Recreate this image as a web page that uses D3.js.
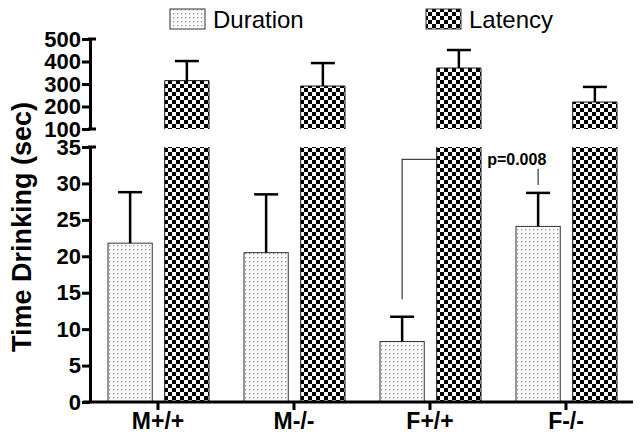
<!DOCTYPE html>
<html>
<head>
<meta charset="utf-8">
<script src="https://cdn.jsdelivr.net/npm/d3@7"></script>
<style>
  body { margin: 0; background: #fff; }
  svg { font-family: "Liberation Sans", Arial, sans-serif; }
</style>
</head>
<body>
<svg id="chart" width="641" height="438"></svg>
<script>
const groups = ['M+/+', 'M-/-', 'F+/+', 'F-/-'];
const series = ['Duration', 'Latency'];
const durationMean = [21.8, 20.5, 8.3, 24.1];
const durationSem = [7.0, 8.0, 3.4, 4.6];
const latencyMean = [315, 291, 371, 220];
const latencySem = [87, 102, 80, 67];
const lowTicks = [0, 5, 10, 15, 20, 25, 30, 35];
const highTicks = [100, 200, 300, 400, 500];
const pLabel = 'p=0.008';

const svg = d3.select('#chart');

// patterns
const defs = svg.append('defs');
const checker = defs.append('pattern')
    .attr('id', 'checker').attr('patternUnits', 'userSpaceOnUse')
    .attr('width', 8).attr('height', 8);
checker.append('rect').attr('width', 8).attr('height', 8).attr('fill', '#fff');
checker.append('rect').attr('width', 4).attr('height', 4).attr('fill', '#000');
checker.append('rect').attr('x', 4).attr('y', 4).attr('width', 4).attr('height', 4).attr('fill', '#000');

const dots = defs.append('pattern')
    .attr('id', 'dots').attr('patternUnits', 'userSpaceOnUse')
    .attr('width', 4).attr('height', 4);
dots.append('rect').attr('width', 4).attr('height', 4).attr('fill', '#fbfbfb');
dots.append('rect').attr('x', 1).attr('y', 1).attr('width', 1.3).attr('height', 1.3).attr('fill', '#999');

const fills = { Duration: 'url(#dots)', Latency: 'url(#checker)' };

// scales
const x = d3.scaleBand().domain(groups).range([90, 634]);
const sub = d3.scaleBand().domain(series).range([18, 119]).paddingInner(0.22);
const yLow = d3.scaleLinear().domain([0, 35]).range([402, 147]);
const yHigh = d3.scaleLinear().domain([100, 500]).range([129, 39]);

const rows = groups.map((g, i) => ({
    g, dur: durationMean[i], durErr: durationSem[i], lat: latencyMean[i], latErr: latencySem[i]
}));

// significance bracket (behind bars)
const fp = rows[2], fm = rows[3];
const leftX = x(fp.g) + sub('Duration') + sub.bandwidth() / 2;
const rightX = x(fm.g) + sub('Duration') + sub.bandwidth() / 2;
svg.append('path')
    .attr('d', `M${leftX},${yLow(14.1)}V${yLow(33.3)}H${x(fp.g) + sub('Latency')}`)
    .attr('fill', 'none').attr('stroke', '#444').attr('stroke-width', 1.3);
svg.append('line')
    .attr('x1', rightX).attr('x2', rightX)
    .attr('y1', yLow(32)).attr('y2', yLow(29.8))
    .attr('stroke', '#444').attr('stroke-width', 1.3);
svg.append('text')
    .attr('x', rightX - 51).attr('y', 165)
    .attr('font-size', 16).attr('font-weight', 'bold')
    .text(pLabel);

const bw = sub.bandwidth();

// duration bars
rows.forEach(d => {
    const bx = x(d.g) + sub('Duration');
    svg.append('rect')
        .attr('x', bx).attr('y', yLow(d.dur))
        .attr('width', bw).attr('height', yLow(0) - yLow(d.dur))
        .attr('fill', fills.Duration).attr('stroke', '#333').attr('stroke-width', 1);
    const cx = bx + bw / 2;
    svg.append('line').attr('x1', cx).attr('x2', cx)
        .attr('y1', yLow(d.dur)).attr('y2', yLow(d.dur + d.durErr))
        .attr('stroke', '#000').attr('stroke-width', 2.5);
    svg.append('line').attr('x1', cx - 12).attr('x2', cx + 12)
        .attr('y1', yLow(d.dur + d.durErr)).attr('y2', yLow(d.dur + d.durErr))
        .attr('stroke', '#000').attr('stroke-width', 2.5);
});

// latency bars: lower segment clipped at 35, upper segment from 100
rows.forEach(d => {
    const bx = x(d.g) + sub('Latency');
    const top = yLow(35), bot = yLow(0);
    svg.append('rect').attr('x', bx).attr('y', top)
        .attr('width', bw).attr('height', bot - top).attr('fill', fills.Latency);
    svg.append('path')
        .attr('d', `M${bx},${top}V${bot}H${bx + bw}V${top}`)
        .attr('fill', 'none').attr('stroke', '#111').attr('stroke-width', 1);

    const ut = yHigh(d.lat), ub = yHigh(100);
    svg.append('rect').attr('x', bx).attr('y', ut)
        .attr('width', bw).attr('height', ub - ut).attr('fill', fills.Latency);
    svg.append('path')
        .attr('d', `M${bx},${ub}V${ut}H${bx + bw}V${ub}`)
        .attr('fill', 'none').attr('stroke', '#111').attr('stroke-width', 1);
    const cx = bx + bw / 2;
    svg.append('line').attr('x1', cx).attr('x2', cx)
        .attr('y1', ut).attr('y2', yHigh(d.lat + d.latErr))
        .attr('stroke', '#000').attr('stroke-width', 2.5);
    svg.append('line').attr('x1', cx - 12).attr('x2', cx + 12)
        .attr('y1', yHigh(d.lat + d.latErr)).attr('y2', yHigh(d.lat + d.latErr))
        .attr('stroke', '#000').attr('stroke-width', 2.5);
});

// axes
function styleAxis(g, size) {
    g.selectAll('path.domain').attr('stroke-width', 3);
    g.selectAll('.tick line').attr('stroke-width', 3);
    g.selectAll('.tick text').attr('font-size', size).attr('font-weight', 'bold')
        .attr('font-family', '"Liberation Sans", Arial, sans-serif').attr('fill', '#000');
}

const gLow = svg.append('g').attr('transform', 'translate(90,0)')
    .call(d3.axisLeft(yLow).tickValues(lowTicks).tickSize(8).tickSizeOuter(0).tickPadding(1));
styleAxis(gLow, 22);
const gHigh = svg.append('g').attr('transform', 'translate(90,0)')
    .call(d3.axisLeft(yHigh).tickValues(highTicks).tickSize(8).tickSizeOuter(0).tickPadding(1));
styleAxis(gHigh, 22);
// small break caps
[yLow(35), yHigh(500), yHigh(100)].forEach(yy => {
    svg.append('line').attr('x1', 88).attr('x2', 96).attr('y1', yy).attr('y2', yy)
        .attr('stroke', '#000').attr('stroke-width', 3);
});

const gx = svg.append('g').attr('transform', `translate(0,${yLow(0)})`)
    .call(d3.axisBottom(x).tickSize(8).tickSizeOuter(0).tickPadding(3));
gx.select('path.domain').remove();
gx.append('line').attr('x1', 83).attr('x2', 633).attr('stroke', '#000').attr('stroke-width', 3);
styleAxis(gx, 23);

// y title
svg.append('text')
    .attr('transform', 'translate(31,227) rotate(-90)')
    .attr('text-anchor', 'middle')
    .attr('font-size', 27).attr('font-weight', 'bold')
    .text('Time Drinking (sec)');

// legend
const legendX = [170, 426];
series.forEach((s, i) => {
    svg.append('rect').attr('x', legendX[i]).attr('y', 9).attr('width', 35).attr('height', 20)
        .attr('fill', fills[s]).attr('stroke', '#333').attr('stroke-width', 1);
    svg.append('text').attr('x', legendX[i] + 43).attr('y', 28)
        .attr('font-size', 24).text(s);
});
</script>
</body>
</html>
